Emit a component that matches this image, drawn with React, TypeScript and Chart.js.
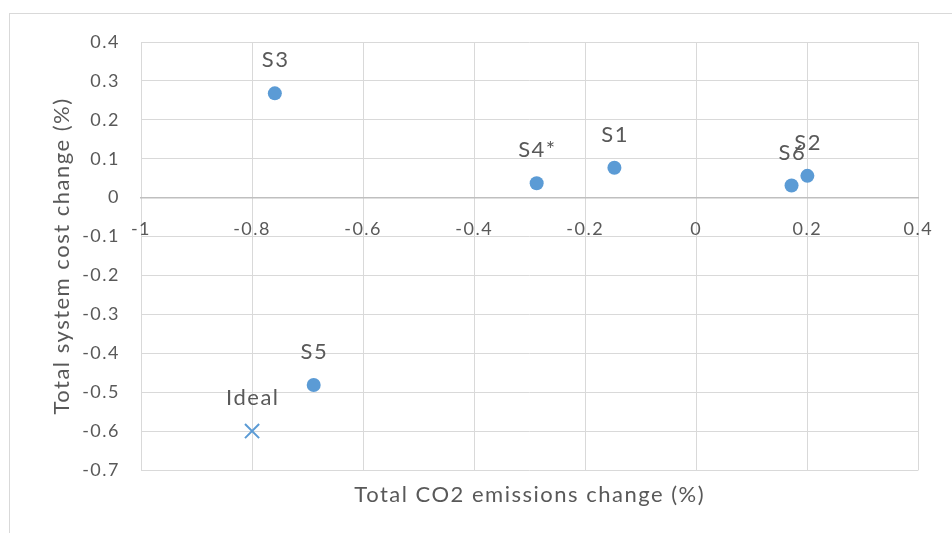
import React, { useEffect, useRef } from "react";
import { Chart, registerables } from "chart.js";

Chart.register(...registerables);

const pointLabels = ["S3", "S4*", "S1", "S6", "S2", "S5", "Ideal"];
const xValues = [-0.759, -0.2875, -0.1475, 0.1715, 0.2, -0.689, -0.8];
const yValues = [0.268, 0.037, 0.077, 0.031, 0.056, -0.4815, -0.6];
const xTickValues = [-1, -0.8, -0.6, -0.4, -0.2, 0, 0.2, 0.4];
const yTickValues = [0.4, 0.3, 0.2, 0.1, 0, -0.1, -0.2, -0.3, -0.4, -0.5, -0.6, -0.7];
const xTitle = "Total CO2 emissions change (%)";
const yTitle = "Total system cost change (%)";

const FONT = "Lato";
const TEXT = "#595959";
const BLUE = "#5B9BD5";
const GRID = "#D9D9D9";
const SPACING = "1.5px";

const fmt = (v: number) => {
  const r = Math.round(v * 10) / 10;
  return r === 0 ? "0" : String(r);
};

const spacingPlugin = {
  id: "spacing",
  beforeDraw(chart: any) {
    (chart.ctx as any).letterSpacing = SPACING;
  },
};

const labelPlugin = {
  id: "pointLabels",
  afterDatasetsDraw(chart: any) {
    const ctx = chart.ctx;
    const meta = chart.getDatasetMeta(0);
    ctx.save();
    (ctx as any).letterSpacing = SPACING;
    ctx.font = `22px ${FONT}`;
    ctx.fillStyle = TEXT;
    ctx.textAlign = "center";
    ctx.textBaseline = "middle";
    meta.data.forEach((el: any, i: number) => {
      ctx.fillText(pointLabels[i], el.x + 0.75, el.y - 33);
    });
    ctx.restore();
  },
};

export default function App() {
  const ref = useRef<HTMLCanvasElement | null>(null);
  useEffect(() => {
    if (!ref.current) return;
    const chart = new Chart(ref.current, {
      type: "scatter",
      data: {
        datasets: [
          {
            data: xValues.map((x, i) => ({ x, y: yValues[i] })),
            backgroundColor: BLUE,
            borderColor: BLUE,
            borderWidth: (c: any) => (pointLabels[c.dataIndex] === "Ideal" ? 2 : 0),
            pointStyle: (c: any) => (pointLabels[c.dataIndex] === "Ideal" ? "crossRot" : "circle"),
            pointRadius: (c: any) => (pointLabels[c.dataIndex] === "Ideal" ? 10 : 7),
          },
        ],
      },
      options: {
        animation: false,
        responsive: false,
        layout: { padding: { top: 42, right: 31.5, bottom: 0, left: 0 } },
        plugins: { legend: { display: false }, tooltip: { enabled: false } },
        scales: {
          x: {
            type: "linear",
            position: { y: 0 },
            min: -1,
            max: 0.4,
            afterBuildTicks: (s: any) => {
              s.ticks = xTickValues.map((v) => ({ value: v }));
            },
            ticks: {
              callback: (v: any) => fmt(Number(v)),
              color: TEXT,
              font: { family: FONT, size: 18 },
              padding: 21,
              maxRotation: 0,
              autoSkip: false,
            },
            grid: { color: GRID, lineWidth: 1, drawTicks: false },
            border: { display: true, color: "#BFBFBF", width: 1.5 },
          },
          x2: {
            type: "linear",
            position: "bottom",
            min: -1,
            max: 0.4,
            afterFit: (s: any) => {
              s.height = 63;
            },
            ticks: { display: false },
            grid: { display: false, drawTicks: false },
            border: { display: false },
            title: {
              display: true,
              text: xTitle,
              color: TEXT,
              font: { family: FONT, size: 22 },
              padding: { top: 0, bottom: 25 },
            },
          },
          y: {
            type: "linear",
            position: "left",
            min: -0.7,
            max: 0.4,
            afterBuildTicks: (s: any) => {
              s.ticks = yTickValues.map((v) => ({ value: v }));
            },
            afterFit: (s: any) => {
              s.width = 141;
            },
            ticks: {
              callback: (v: any) => fmt(Number(v)),
              color: TEXT,
              font: { family: FONT, size: 18 },
              padding: 21,
              autoSkip: false,
            },
            grid: { color: GRID, lineWidth: 1, drawTicks: false },
            border: { display: false },
            title: {
              display: true,
              text: yTitle,
              color: TEXT,
              font: { family: FONT, size: 22 },
              padding: { top: 49, bottom: 0 },
            },
          },
        },
      },
      plugins: [spacingPlugin, labelPlugin],
    } as any);
    return () => chart.destroy();
  }, []);

  return (
    <div style={{ position: "fixed", left: 0, top: 0, width: 952, height: 533, background: "#fff", overflow: "hidden" }}>
      <div
        style={{
          position: "absolute",
          left: 9,
          top: 13,
          width: 1200,
          height: 800,
          borderLeft: `1px solid ${GRID}`,
          borderTop: `1px solid ${GRID}`,
        }}
      />
      <canvas ref={ref} width={952} height={533} style={{ position: "absolute", left: 0, top: 0 }} />
    </div>
  );
}
